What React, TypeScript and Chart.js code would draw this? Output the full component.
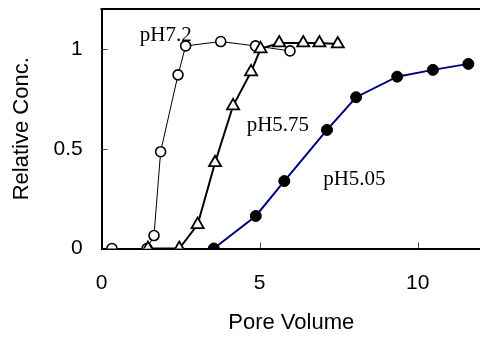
import React, { useEffect, useRef } from "react";
import { Chart, registerables } from "chart.js";

Chart.register(...registerables);

// pH7.2 (open circles)
const ph72X = [0.33, 1.44, 1.66, 1.87, 2.42, 2.66, 3.77, 4.87, 5.96];
const ph72Y = [0, 0, 0.065, 0.485, 0.87, 1.015, 1.037, 1.015, 0.99];
// pH5.75 (open triangles)
const ph575X = [1.47, 2.46, 3.04, 3.59, 4.16, 4.73, 5.03, 5.62, 6.38, 6.89, 7.47];
const ph575Y = [0, 0, 0.12, 0.43, 0.715, 0.885, 1.0, 1.03, 1.03, 1.03, 1.025];
// pH5.05 (filled circles)
const ph505X = [3.55, 4.88, 5.78, 7.13, 8.05, 9.35, 10.48, 11.6];
const ph505Y = [0, 0.163, 0.338, 0.594, 0.758, 0.861, 0.895, 0.925];

const xTicks = [0, 5, 10];
const yTicks = [0, 0.5, 1];
const xTitle = "Pore Volume";
const yTitle = "Relative Conc.";

const seriesLabels = ["pH7.2", "pH5.75", "pH5.05"];
const labelX = [1.21, 4.59, 7.01];
const labelY = [1.04, 0.59, 0.32];

const toPoints = (xs: number[], ys: number[]) => xs.map((x, i) => ({ x, y: ys[i] }));

const sansFont = "'Liberation Sans', Arial, sans-serif";

const zeroPad = (s: any) => {
  s.paddingTop = 0;
  s.paddingBottom = 0;
  s.paddingLeft = 0;
  s.paddingRight = 0;
};

export default function App() {
  const ref = useRef<HTMLCanvasElement | null>(null);

  useEffect(() => {
    if (!ref.current) return;
    const decor = {
      id: "decor",
      afterDraw(chart: any) {
        const { ctx, chartArea, scales } = chart;
        ctx.save();
        ctx.strokeStyle = "#000";
        ctx.lineWidth = 2;
        ctx.beginPath();
        ctx.moveTo(chartArea.left - 1, chartArea.top);
        ctx.lineTo(chartArea.right + 2, chartArea.top);
        ctx.stroke();
        ctx.lineWidth = 1;
        ctx.strokeStyle = "#444";
        yTicks.forEach((v) => {
          if (v === 0) return;
          const py = Math.round(scales.y.getPixelForValue(v)) + 0.5;
          ctx.beginPath();
          ctx.moveTo(chartArea.left, py);
          ctx.lineTo(chartArea.left + 6, py);
          ctx.stroke();
        });
        xTicks.forEach((v) => {
          if (v === 0) return;
          const px = Math.round(scales.x.getPixelForValue(v)) + 0.5;
          ctx.beginPath();
          ctx.moveTo(px, chartArea.bottom);
          ctx.lineTo(px, chartArea.bottom - 6);
          ctx.stroke();
        });
        ctx.restore();
      },
      afterDatasetsDraw(chart: any) {
        const { ctx, scales } = chart;
        ctx.save();
        ctx.fillStyle = "#000";
        ctx.font = "21px 'Liberation Serif', serif";
        ctx.textAlign = "left";
        ctx.textBaseline = "alphabetic";
        seriesLabels.forEach((t, i) => {
          ctx.fillText(t, scales.x.getPixelForValue(labelX[i]), scales.y.getPixelForValue(labelY[i]));
        });
        ctx.restore();
      },
    };

    const chart = new Chart(ref.current, {
      type: "scatter",
      data: {
        datasets: [
          {
            label: seriesLabels[0],
            data: toPoints(ph72X, ph72Y),
            showLine: true,
            borderColor: "#000",
            borderWidth: 1,
            pointStyle: "circle",
            pointRadius: 5,
            pointBorderWidth: 1.6,
            pointBackgroundColor: "#fff",
            pointBorderColor: "#000",
            order: 3,
          },
          {
            label: seriesLabels[1],
            data: toPoints(ph575X, ph575Y),
            showLine: true,
            borderColor: "#000",
            borderWidth: 2,
            pointStyle: "triangle",
            pointRadius: 7,
            pointBorderWidth: 1.8,
            pointBackgroundColor: "#fff",
            pointBorderColor: "#000",
            order: 2,
          },
          {
            label: seriesLabels[2],
            data: toPoints(ph505X, ph505Y),
            showLine: true,
            borderColor: "#000080",
            borderWidth: 2,
            pointStyle: "circle",
            pointRadius: 5.5,
            pointBorderWidth: 1,
            pointBackgroundColor: "#000",
            pointBorderColor: "#000",
            order: 1,
          },
        ],
      },
      options: {
        responsive: false,
        animation: false,
        layout: { autoPadding: false, padding: { top: 9, right: 1, left: 0, bottom: 0 } },
        plugins: { legend: { display: false }, tooltip: { enabled: false } },
        scales: {
          x: {
            type: "linear",
            min: 0,
            max: 12,
            grid: { display: false, drawTicks: false },
            border: { display: true, color: "#000", width: 2 },
            afterBuildTicks: (s: any) => {
              s.ticks = xTicks.map((v) => ({ value: v }));
            },
            afterFit: (s: any) => {
              s.height = 91.5;
              zeroPad(s);
            },
            ticks: {
              color: "#000",
              padding: 21.9,
              font: { family: sansFont, size: 21 },
              callback: (v: any) => String(v),
            },
            title: {
              display: true,
              text: xTitle,
              color: "#000",
              font: { family: sansFont, size: 22 },
              padding: { top: 0, bottom: 3.4 },
            },
          },
          y: {
            type: "linear",
            min: 0,
            max: 1.2,
            grid: { display: false, drawTicks: false },
            border: { display: true, color: "#000", width: 2 },
            afterBuildTicks: (s: any) => {
              s.ticks = yTicks.map((v) => ({ value: v }));
            },
            afterFit: (s: any) => {
              s.width = 101.5;
              zeroPad(s);
            },
            ticks: {
              color: "#000",
              padding: 18.8,
              font: { family: sansFont, size: 21 },
              callback: (v: any) => String(v),
            },
            title: {
              display: true,
              text: yTitle,
              color: "#000",
              font: { family: sansFont, size: 22 },
              padding: { top: 8.8, bottom: 0 },
            },
          },
        },
      },
      plugins: [decor],
    });
    return () => chart.destroy();
  }, []);

  return (
    <div style={{ position: "absolute", left: 0, top: 0, width: 480, height: 340, overflow: "hidden", background: "#fff" }}>
      <canvas ref={ref} width={482} height={340} style={{ width: 482, height: 340, display: "block" }} />
    </div>
  );
}
